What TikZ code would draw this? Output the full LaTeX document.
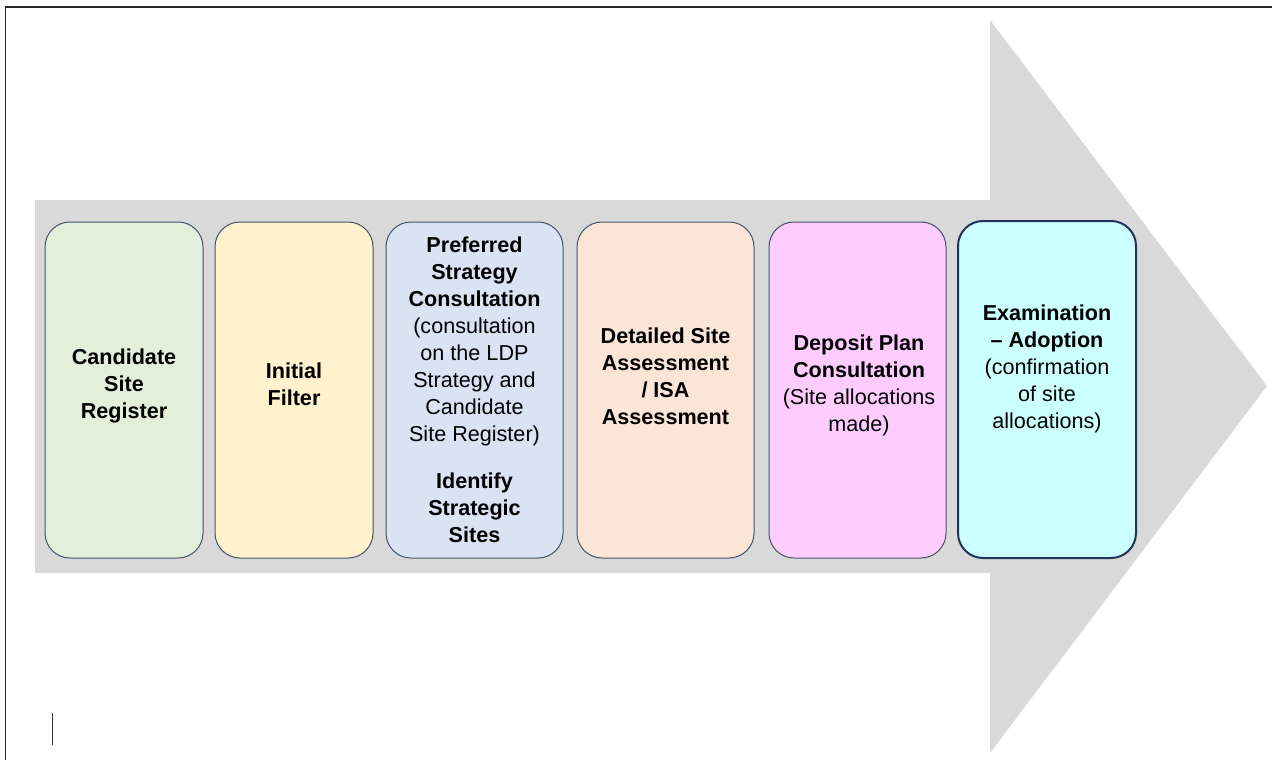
\documentclass[tikz,border=0pt]{standalone}
\usepackage{fontspec}
\setmainfont{Liberation Sans}
\definecolor{arrowgray}{HTML}{D9D9D9}
\definecolor{boxline}{HTML}{41536E}
\definecolor{boxlinedark}{HTML}{1F3457}
\definecolor{cgreen}{HTML}{E2EFDA}
\definecolor{cyellow}{HTML}{FFF2CC}
\definecolor{cblue}{HTML}{DAE3F3}
\definecolor{corange}{HTML}{FBE5D6}
\definecolor{cpink}{HTML}{FFCCFF}
\definecolor{ccyan}{HTML}{CCFFFF}
\begin{document}
\begin{tikzpicture}[x=1pt,y=-1pt,
  stage/.style={draw=boxline,line width=1pt,rounded corners=25pt},
  stagetext/.style={align=center,inner sep=0pt,font=\fontsize{21.6}{27}\selectfont}]
\useasboundingbox (0,0) rectangle (1272,760);
% frame
\draw[line width=1.5pt,black!85] (5.5,760) -- (5.5,7) -- (1272,7);
% big arrow
\fill[arrowgray] (35,200) -- (990,200) -- (990,20) -- (1267,386) -- (990,753) -- (990,573) -- (35,573) -- cycle;
% boxes
\draw[stage,fill=cgreen]  (45,222) rectangle (203,558);
\draw[stage,fill=cyellow] (215,222) rectangle (373,558);
\draw[stage,fill=cblue]   (386,222) rectangle (563,558);
\draw[stage,fill=corange] (577,222) rectangle (754,558);
\draw[stage,fill=cpink]   (769,222) rectangle (946,558);
\draw[stage,fill=ccyan,draw=boxlinedark,line width=2pt] (958,221) rectangle (1136,558);
% texts
\node[stagetext] (t1) at (124,386) {\textbf{Candidate}\\\textbf{Site}\\\textbf{Register}};
\node[stagetext] (t2) at (294,384) {\textbf{Initial}\\\textbf{Filter}};
\node[stagetext] (t3) at (474.5,390) {\textbf{Preferred}\\\textbf{Strategy}\\\textbf{Consultation}\\(consultation\\on the LDP\\Strategy and\\Candidate\\Site Register)\\[20pt]\textbf{Identify}\\\textbf{Strategic}\\\textbf{Sites}};
\node[stagetext] (t4) at (665.5,376) {\textbf{Detailed Site}\\\textbf{Assessment}\\\textbf{/ ISA}\\\textbf{Assessment}};
\node[stagetext] (t5) at (859,385) {\textbf{Deposit Plan}\\\textbf{Consultation}\\(Site allocations\\made)};
\node[stagetext] (t6) at (1047,369) {\textbf{Examination}\\\textbf{– Adoption}\\(confirmation\\of site\\allocations)};
% cursor mark
\draw[line width=1pt,black!80] (52.5,713) -- (52.5,745);
\end{tikzpicture}
\end{document}
